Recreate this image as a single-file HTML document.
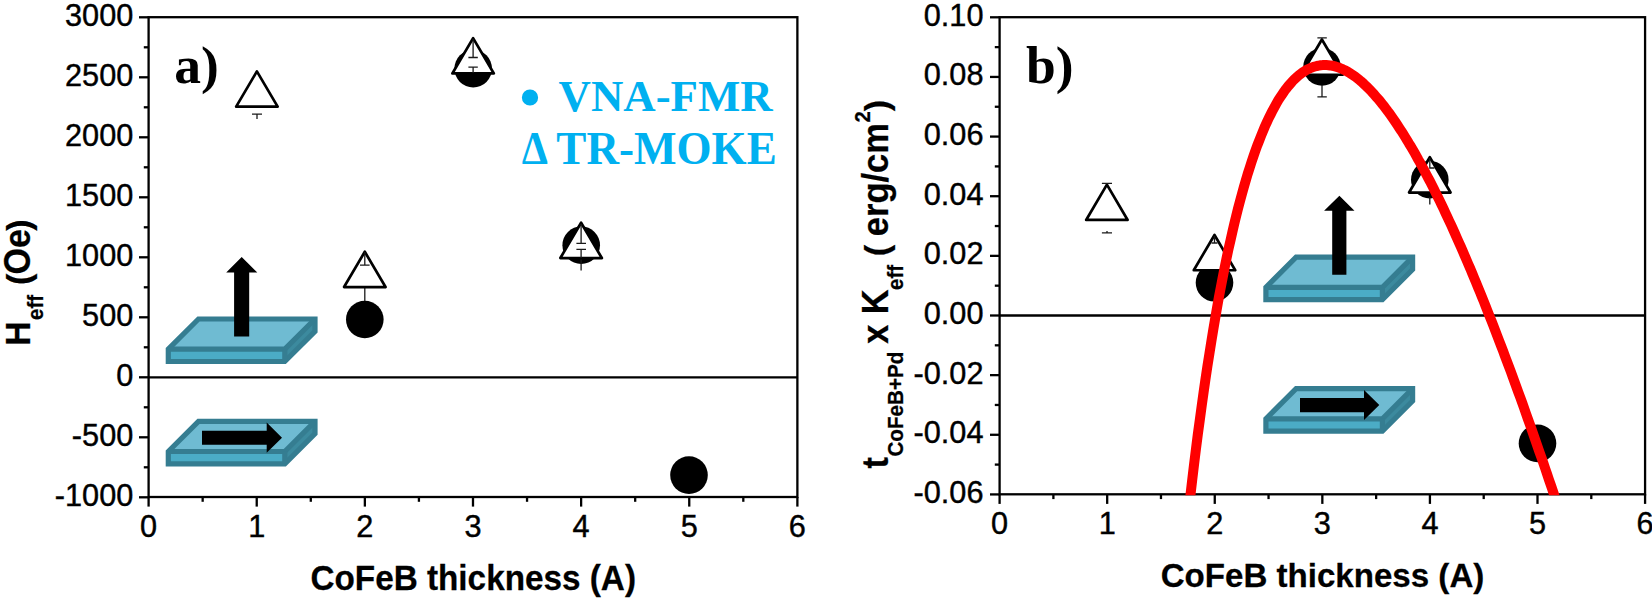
<!DOCTYPE html>
<html><head><meta charset="utf-8"><title>Figure</title>
<style>
html,body{margin:0;padding:0;background:#fff;}
body{width:1652px;height:603px;overflow:hidden;}
svg{display:block;}
.tk{font-family:"Liberation Sans",Arial,sans-serif;font-size:30.7px;fill:#000;stroke:#000;stroke-width:0.4px;}
.ttl{font-family:"Liberation Sans",Arial,sans-serif;font-weight:bold;fill:#000;stroke:#000;stroke-width:0.25px;}
.ser{font-family:"Liberation Serif","Times New Roman",serif;font-weight:bold;}
.ax{stroke:#000;stroke-width:2.3;fill:none;stroke-linecap:butt;}
.eb{stroke:#1a1a1a;stroke-width:1.3;fill:none;}
.tri{fill:#fff;stroke:#000;stroke-width:2.7;stroke-linejoin:round;}
</style></head><body>
<svg width="1652" height="603" viewBox="0 0 1652 603">
<rect width="1652" height="603" fill="#fff"/>

<!-- left plot -->
<polygon points="168.30,349.20 198.50,319.00 315.00,319.00 284.80,349.20" fill="#6FBBD2"/>
<polygon points="284.80,349.20 315.00,319.00 315.00,331.30 284.80,361.50" fill="#3C8A9E"/>
<rect x="168.30" y="349.20" width="116.5" height="12.3" fill="#4BACC6"/>
<g fill="none" stroke="#357D91" stroke-width="5.2" stroke-linejoin="miter" stroke-linecap="butt">
<polygon points="168.30,361.50 168.30,349.20 198.50,319.00 315.00,319.00 315.00,331.30 284.80,361.50"/>
<polyline points="168.30,349.20 284.80,349.20 315.00,319.00"/>
<line x1="284.80" y1="349.20" x2="284.80" y2="361.50"/>
</g>
<polygon fill="#000" points="234.1,336.4 234.1,272.5 226.2,272.5 241.7,257 257.3,272.5 249.2,272.5 249.2,336.4"/>
<polygon points="168.30,451.50 198.50,421.30 315.00,421.30 284.80,451.50" fill="#6FBBD2"/>
<polygon points="284.80,451.50 315.00,421.30 315.00,433.60 284.80,463.80" fill="#3C8A9E"/>
<rect x="168.30" y="451.50" width="116.5" height="12.3" fill="#4BACC6"/>
<g fill="none" stroke="#357D91" stroke-width="5.2" stroke-linejoin="miter" stroke-linecap="butt">
<polygon points="168.30,463.80 168.30,451.50 198.50,421.30 315.00,421.30 315.00,433.60 284.80,463.80"/>
<polyline points="168.30,451.50 284.80,451.50 315.00,421.30"/>
<line x1="284.80" y1="451.50" x2="284.80" y2="463.80"/>
</g>
<polygon fill="#000" points="202,430.8 266.7,430.8 266.7,422.5 282,437.7 266.7,452.8 266.7,444.8 202,444.8"/>
<rect class="ax" x="148.6" y="17.2" width="648.78" height="479.80"/>
<line class="ax" x1="148.6" y1="377.3" x2="797.38" y2="377.3"/>
<line class="ax" x1="139.0" y1="497.30" x2="148.6" y2="497.30"/>
<line class="ax" x1="143.79999999999998" y1="467.30" x2="148.6" y2="467.30"/>
<line class="ax" x1="139.0" y1="437.30" x2="148.6" y2="437.30"/>
<line class="ax" x1="143.79999999999998" y1="407.30" x2="148.6" y2="407.30"/>
<line class="ax" x1="139.0" y1="377.30" x2="148.6" y2="377.30"/>
<line class="ax" x1="143.79999999999998" y1="347.30" x2="148.6" y2="347.30"/>
<line class="ax" x1="139.0" y1="317.30" x2="148.6" y2="317.30"/>
<line class="ax" x1="143.79999999999998" y1="287.30" x2="148.6" y2="287.30"/>
<line class="ax" x1="139.0" y1="257.30" x2="148.6" y2="257.30"/>
<line class="ax" x1="143.79999999999998" y1="227.30" x2="148.6" y2="227.30"/>
<line class="ax" x1="139.0" y1="197.30" x2="148.6" y2="197.30"/>
<line class="ax" x1="143.79999999999998" y1="167.30" x2="148.6" y2="167.30"/>
<line class="ax" x1="139.0" y1="137.30" x2="148.6" y2="137.30"/>
<line class="ax" x1="143.79999999999998" y1="107.30" x2="148.6" y2="107.30"/>
<line class="ax" x1="139.0" y1="77.30" x2="148.6" y2="77.30"/>
<line class="ax" x1="143.79999999999998" y1="47.30" x2="148.6" y2="47.30"/>
<line class="ax" x1="139.0" y1="17.30" x2="148.6" y2="17.30"/>
<line class="ax" x1="148.60" y1="497.0" x2="148.60" y2="506.6"/>
<line class="ax" x1="202.66" y1="497.0" x2="202.66" y2="501.8"/>
<line class="ax" x1="256.73" y1="497.0" x2="256.73" y2="506.6"/>
<line class="ax" x1="310.79" y1="497.0" x2="310.79" y2="501.8"/>
<line class="ax" x1="364.86" y1="497.0" x2="364.86" y2="506.6"/>
<line class="ax" x1="418.92" y1="497.0" x2="418.92" y2="501.8"/>
<line class="ax" x1="472.99" y1="497.0" x2="472.99" y2="506.6"/>
<line class="ax" x1="527.05" y1="497.0" x2="527.05" y2="501.8"/>
<line class="ax" x1="581.12" y1="497.0" x2="581.12" y2="506.6"/>
<line class="ax" x1="635.18" y1="497.0" x2="635.18" y2="501.8"/>
<line class="ax" x1="689.25" y1="497.0" x2="689.25" y2="506.6"/>
<line class="ax" x1="743.31" y1="497.0" x2="743.31" y2="501.8"/>
<line class="ax" x1="797.38" y1="497.0" x2="797.38" y2="506.6"/>
<text class="tk" transform="translate(133.30,505.80) scale(1,1.035)" text-anchor="end" >-1000</text>
<text class="tk" transform="translate(133.30,445.80) scale(1,1.035)" text-anchor="end" >-500</text>
<text class="tk" transform="translate(133.30,385.80) scale(1,1.035)" text-anchor="end" >0</text>
<text class="tk" transform="translate(133.30,325.80) scale(1,1.035)" text-anchor="end" >500</text>
<text class="tk" transform="translate(133.30,265.80) scale(1,1.035)" text-anchor="end" >1000</text>
<text class="tk" transform="translate(133.30,205.80) scale(1,1.035)" text-anchor="end" >1500</text>
<text class="tk" transform="translate(133.30,145.80) scale(1,1.035)" text-anchor="end" >2000</text>
<text class="tk" transform="translate(133.30,85.80) scale(1,1.035)" text-anchor="end" >2500</text>
<text class="tk" transform="translate(133.30,25.80) scale(1,1.035)" text-anchor="end" >3000</text>
<text class="tk" transform="translate(148.60,536.90) scale(1,1.035)" text-anchor="middle" >0</text>
<text class="tk" transform="translate(256.73,536.90) scale(1,1.035)" text-anchor="middle" >1</text>
<text class="tk" transform="translate(364.86,536.90) scale(1,1.035)" text-anchor="middle" >2</text>
<text class="tk" transform="translate(472.99,536.90) scale(1,1.035)" text-anchor="middle" >3</text>
<text class="tk" transform="translate(581.12,536.90) scale(1,1.035)" text-anchor="middle" >4</text>
<text class="tk" transform="translate(689.25,536.90) scale(1,1.035)" text-anchor="middle" >5</text>
<text class="tk" transform="translate(797.38,536.90) scale(1,1.035)" text-anchor="middle" >6</text>
<circle cx="364.8" cy="319.5" r="18.8" fill="#000"/>
<circle cx="473.2" cy="68.6" r="18.8" fill="#000"/>
<circle cx="581.2" cy="245.2" r="18.8" fill="#000"/>
<circle cx="689.0" cy="475.1" r="18.8" fill="#000"/>
<line class="eb" x1="364.8" y1="288" x2="364.8" y2="301"/>
<line class="eb" x1="581.1" y1="224" x2="581.1" y2="270.5"/>
<polygon class="tri" points="256.9,71.35 277.65,106.65 236.15,106.65"/>
<polygon class="tri" points="364.8,251.75 385.55,287.05 344.05,287.05"/>
<polygon class="tri" points="473.1,38.15 493.85,73.45 452.35,73.45"/>
<polygon class="tri" points="581.1,222.75 601.85,258.05 560.35,258.05"/>
<path class="eb" d="M252,114.2H262M257,114.2V119"/>
<path class="eb" d="M364.8,252V265.2M360,265.2H369.6"/>
<path class="eb" d="M473.1,39V57.5M468.4,57.5H477.8M468.4,67.1H477.8M473.1,67.1V73"/>
<path class="eb" d="M581.1,224V243.4M581.1,249.3V258M576.4,243.4H586M576.4,249.3H586"/>
<text class="ser" x="174.3" y="83" font-size="53.5" fill="#000">a)</text>
<text class="ser" x="519.6" y="117" font-size="60" fill="#00B0F0">•</text>
<text class="ser" transform="translate(558.5,110.6) scale(1,1.0)" font-size="44.85" fill="#00B0F0">VNA-FMR</text>
<text class="ser" transform="translate(521.8,163.9) scale(0.93,1.02)" font-size="44.85" fill="#00B0F0">Δ</text>
<text class="ser" transform="translate(556.3,163.9) scale(1,1.02)" font-size="45.1" fill="#00B0F0">TR-MOKE</text>
<text class="ttl" transform="translate(473.20,589.80) scale(1,1.03)" text-anchor="middle" font-size="33.3">CoFeB thickness (A)</text>
<g transform="translate(30.2,0) rotate(-90)">
<text class="ttl" font-size="33.8" transform="translate(-333.50,0.00) scale(1,1.06)" text-anchor="middle">H</text>
<text class="ttl" font-size="20.3" transform="translate(-307.50,13.20) scale(1,1.06)" text-anchor="middle">eff</text>
<text class="ttl" font-size="34.0" transform="translate(-279.30,0.00) scale(1,0.975)" text-anchor="middle">(</text>
<text class="ttl" font-size="34.0" transform="translate(-251.80,0.00) scale(1,1.06)" text-anchor="middle">Oe</text>
<text class="ttl" font-size="34.0" transform="translate(-225.20,0.00) scale(1,0.975)" text-anchor="middle">)</text>
</g>
<!-- right plot -->
<polygon points="1265.90,287.40 1296.10,257.20 1412.60,257.20 1382.40,287.40" fill="#6FBBD2"/>
<polygon points="1382.40,287.40 1412.60,257.20 1412.60,269.50 1382.40,299.70" fill="#3C8A9E"/>
<rect x="1265.90" y="287.40" width="116.5" height="12.3" fill="#4BACC6"/>
<g fill="none" stroke="#357D91" stroke-width="5.2" stroke-linejoin="miter" stroke-linecap="butt">
<polygon points="1265.90,299.70 1265.90,287.40 1296.10,257.20 1412.60,257.20 1412.60,269.50 1382.40,299.70"/>
<polyline points="1265.90,287.40 1382.40,287.40 1412.60,257.20"/>
<line x1="1382.40" y1="287.40" x2="1382.40" y2="299.70"/>
</g>
<polygon fill="#000" points="1332.2,274.8 1332.2,210.7 1324.1,210.7 1339.4,195.8 1354.5,210.7 1346.4,210.7 1346.4,274.8"/>
<polygon points="1265.90,418.90 1296.10,388.70 1412.60,388.70 1382.40,418.90" fill="#6FBBD2"/>
<polygon points="1382.40,418.90 1412.60,388.70 1412.60,401.00 1382.40,431.20" fill="#3C8A9E"/>
<rect x="1265.90" y="418.90" width="116.5" height="12.3" fill="#4BACC6"/>
<g fill="none" stroke="#357D91" stroke-width="5.2" stroke-linejoin="miter" stroke-linecap="butt">
<polygon points="1265.90,431.20 1265.90,418.90 1296.10,388.70 1412.60,388.70 1412.60,401.00 1382.40,431.20"/>
<polyline points="1265.90,418.90 1382.40,418.90 1412.60,388.70"/>
<line x1="1382.40" y1="418.90" x2="1382.40" y2="431.20"/>
</g>
<polygon fill="#000" points="1300,398.1 1364,398.1 1364,389.9 1379.3,405 1364,420.1 1364,412.2 1300,412.2"/>
<rect class="ax" x="999.6" y="17.2" width="645.48" height="477.10"/>
<line class="ax" x1="999.6" y1="315.5" x2="1645.08" y2="315.5"/>
<line class="ax" x1="990.0" y1="494.42" x2="999.6" y2="494.42"/>
<line class="ax" x1="994.8000000000001" y1="464.60" x2="999.6" y2="464.60"/>
<line class="ax" x1="990.0" y1="434.78" x2="999.6" y2="434.78"/>
<line class="ax" x1="994.8000000000001" y1="404.96" x2="999.6" y2="404.96"/>
<line class="ax" x1="990.0" y1="375.14" x2="999.6" y2="375.14"/>
<line class="ax" x1="994.8000000000001" y1="345.32" x2="999.6" y2="345.32"/>
<line class="ax" x1="990.0" y1="315.50" x2="999.6" y2="315.50"/>
<line class="ax" x1="994.8000000000001" y1="285.68" x2="999.6" y2="285.68"/>
<line class="ax" x1="990.0" y1="255.86" x2="999.6" y2="255.86"/>
<line class="ax" x1="994.8000000000001" y1="226.04" x2="999.6" y2="226.04"/>
<line class="ax" x1="990.0" y1="196.22" x2="999.6" y2="196.22"/>
<line class="ax" x1="994.8000000000001" y1="166.40" x2="999.6" y2="166.40"/>
<line class="ax" x1="990.0" y1="136.58" x2="999.6" y2="136.58"/>
<line class="ax" x1="994.8000000000001" y1="106.76" x2="999.6" y2="106.76"/>
<line class="ax" x1="990.0" y1="76.94" x2="999.6" y2="76.94"/>
<line class="ax" x1="994.8000000000001" y1="47.12" x2="999.6" y2="47.12"/>
<line class="ax" x1="990.0" y1="17.30" x2="999.6" y2="17.30"/>
<line class="ax" x1="999.60" y1="494.3" x2="999.60" y2="503.90000000000003"/>
<line class="ax" x1="1053.39" y1="494.3" x2="1053.39" y2="499.1"/>
<line class="ax" x1="1107.18" y1="494.3" x2="1107.18" y2="503.90000000000003"/>
<line class="ax" x1="1160.97" y1="494.3" x2="1160.97" y2="499.1"/>
<line class="ax" x1="1214.76" y1="494.3" x2="1214.76" y2="503.90000000000003"/>
<line class="ax" x1="1268.55" y1="494.3" x2="1268.55" y2="499.1"/>
<line class="ax" x1="1322.34" y1="494.3" x2="1322.34" y2="503.90000000000003"/>
<line class="ax" x1="1376.13" y1="494.3" x2="1376.13" y2="499.1"/>
<line class="ax" x1="1429.92" y1="494.3" x2="1429.92" y2="503.90000000000003"/>
<line class="ax" x1="1483.71" y1="494.3" x2="1483.71" y2="499.1"/>
<line class="ax" x1="1537.50" y1="494.3" x2="1537.50" y2="503.90000000000003"/>
<line class="ax" x1="1591.29" y1="494.3" x2="1591.29" y2="499.1"/>
<line class="ax" x1="1645.08" y1="494.3" x2="1645.08" y2="503.90000000000003"/>
<text class="tk" transform="translate(983.50,502.92) scale(1,1.035)" text-anchor="end" >-0.06</text>
<text class="tk" transform="translate(983.50,443.28) scale(1,1.035)" text-anchor="end" >-0.04</text>
<text class="tk" transform="translate(983.50,383.64) scale(1,1.035)" text-anchor="end" >-0.02</text>
<text class="tk" transform="translate(983.50,324.00) scale(1,1.035)" text-anchor="end" >0.00</text>
<text class="tk" transform="translate(983.50,264.36) scale(1,1.035)" text-anchor="end" >0.02</text>
<text class="tk" transform="translate(983.50,204.72) scale(1,1.035)" text-anchor="end" >0.04</text>
<text class="tk" transform="translate(983.50,145.08) scale(1,1.035)" text-anchor="end" >0.06</text>
<text class="tk" transform="translate(983.50,85.44) scale(1,1.035)" text-anchor="end" >0.08</text>
<text class="tk" transform="translate(983.50,25.80) scale(1,1.035)" text-anchor="end" >0.10</text>
<text class="tk" transform="translate(999.60,534.10) scale(1,1.035)" text-anchor="middle" >0</text>
<text class="tk" transform="translate(1107.18,534.10) scale(1,1.035)" text-anchor="middle" >1</text>
<text class="tk" transform="translate(1214.76,534.10) scale(1,1.035)" text-anchor="middle" >2</text>
<text class="tk" transform="translate(1322.34,534.10) scale(1,1.035)" text-anchor="middle" >3</text>
<text class="tk" transform="translate(1429.92,534.10) scale(1,1.035)" text-anchor="middle" >4</text>
<text class="tk" transform="translate(1537.50,534.10) scale(1,1.035)" text-anchor="middle" >5</text>
<text class="tk" transform="translate(1645.08,534.10) scale(1,1.035)" text-anchor="middle" >6</text>
<circle cx="1214.5" cy="282.8" r="18.8" fill="#000"/>
<circle cx="1322" cy="66.9" r="18.8" fill="#000"/>
<circle cx="1429.8" cy="179.7" r="18.8" fill="#000"/>
<circle cx="1537.5" cy="443.4" r="18.8" fill="#000"/>
<path class="eb" d="M1322,85V96.9M1317.4,96.9H1326.8M1429.8,197V204.5"/>
<polygon class="tri" points="1106.9,184.65 1127.65,219.95 1086.15,219.95"/>
<polygon class="tri" points="1214.5,234.95 1235.25,270.25 1193.75,270.25"/>
<polygon class="tri" points="1321.9,39.45 1342.65,74.75 1301.15,74.75"/>
<polygon class="tri" points="1429.8,157.25 1450.55,192.55 1409.05,192.55"/>
<path class="eb" d="M1101.9,183.4H1112M1101.9,232.9H1112M1107,232.9V231M1317.4,37.9H1326.8M1214.5,236V243M1211.5,243H1217.5M1429.8,158V168H1434.5"/>
<clipPath id="cr"><rect x="999.6" y="17.2" width="645.48" height="478.10"/></clipPath>
<path d="M1182.5,568.1 L1184.4,549.6 L1186.3,531.6 L1188.2,514.2 L1190.2,497.2 L1192.1,480.8 L1194.0,464.9 L1195.9,449.5 L1197.8,434.5 L1199.8,420.0 L1201.7,405.9 L1203.6,392.3 L1205.5,379.0 L1207.4,366.2 L1209.4,353.8 L1211.3,341.8 L1213.2,330.1 L1215.1,318.8 L1217.0,307.8 L1218.9,297.2 L1220.9,286.9 L1222.8,277.0 L1224.7,267.3 L1226.6,258.0 L1228.5,249.0 L1230.5,240.3 L1232.4,231.8 L1234.3,223.7 L1236.2,215.8 L1238.1,208.2 L1240.1,200.8 L1242.0,193.7 L1243.9,186.9 L1245.8,180.3 L1247.7,173.9 L1249.7,167.7 L1251.6,161.8 L1253.5,156.1 L1255.4,150.7 L1257.3,145.4 L1259.3,140.3 L1261.2,135.5 L1263.1,130.8 L1265.0,126.3 L1266.9,122.1 L1268.8,118.0 L1270.8,114.1 L1272.7,110.3 L1274.6,106.8 L1276.5,103.4 L1278.4,100.1 L1280.4,97.1 L1282.3,94.2 L1284.2,91.4 L1286.1,88.8 L1288.0,86.4 L1290.0,84.1 L1291.9,81.9 L1293.8,79.9 L1295.7,78.1 L1297.6,76.3 L1299.6,74.7 L1301.5,73.3 L1303.4,71.9 L1305.3,70.7 L1307.2,69.6 L1309.1,68.7 L1311.1,67.8 L1313.0,67.1 L1314.9,66.5 L1316.8,66.0 L1318.7,65.6 L1320.7,65.3 L1322.6,65.1 L1324.5,65.0 L1326.4,65.1 L1328.3,65.2 L1330.3,65.4 L1332.2,65.7 L1334.1,66.2 L1336.0,66.7 L1337.9,67.3 L1339.9,68.0 L1341.8,68.8 L1343.7,69.7 L1345.6,70.6 L1347.5,71.7 L1349.5,72.8 L1351.4,74.1 L1353.3,75.4 L1355.2,76.7 L1357.1,78.2 L1359.0,79.7 L1361.0,81.3 L1362.9,83.0 L1364.8,84.8 L1366.7,86.6 L1368.6,88.5 L1370.6,90.5 L1372.5,92.6 L1374.4,94.7 L1376.3,96.9 L1378.2,99.1 L1380.2,101.4 L1382.1,103.8 L1384.0,106.2 L1385.9,108.7 L1387.8,111.3 L1389.8,113.9 L1391.7,116.6 L1393.6,119.3 L1395.5,122.1 L1397.4,125.0 L1399.3,127.9 L1401.3,130.9 L1403.2,133.9 L1405.1,137.0 L1407.0,140.1 L1408.9,143.3 L1410.9,146.5 L1412.8,149.8 L1414.7,153.1 L1416.6,156.5 L1418.5,160.0 L1420.5,163.4 L1422.4,167.0 L1424.3,170.5 L1426.2,174.2 L1428.1,177.8 L1430.1,181.5 L1432.0,185.3 L1433.9,189.1 L1435.8,192.9 L1437.7,196.8 L1439.7,200.8 L1441.6,204.7 L1443.5,208.7 L1445.4,212.8 L1447.3,216.9 L1449.2,221.0 L1451.2,225.2 L1453.1,229.4 L1455.0,233.6 L1456.9,237.9 L1458.8,242.2 L1460.8,246.6 L1462.7,251.0 L1464.6,255.4 L1466.5,259.9 L1468.4,264.4 L1470.4,268.9 L1472.3,273.5 L1474.2,278.1 L1476.1,282.7 L1478.0,287.4 L1480.0,292.1 L1481.9,296.8 L1483.8,301.5 L1485.7,306.3 L1487.6,311.2 L1489.5,316.0 L1491.5,320.9 L1493.4,325.8 L1495.3,330.8 L1497.2,335.7 L1499.1,340.7 L1501.1,345.8 L1503.0,350.8 L1504.9,355.9 L1506.8,361.0 L1508.7,366.1 L1510.7,371.3 L1512.6,376.5 L1514.5,381.7 L1516.4,387.0 L1518.3,392.2 L1520.3,397.5 L1522.2,402.8 L1524.1,408.2 L1526.0,413.6 L1527.9,419.0 L1529.9,424.4 L1531.8,429.8 L1533.7,435.3 L1535.6,440.8 L1537.5,446.3 L1539.4,451.8 L1541.4,457.4 L1543.3,462.9 L1545.2,468.5 L1547.1,474.2 L1549.0,479.8 L1551.0,485.5 L1552.9,491.2 L1554.8,496.9 L1556.7,502.6 L1558.6,508.3 L1560.6,514.1 L1562.5,519.9 L1564.4,525.7" fill="none" stroke="#FF0000" stroke-width="10" stroke-linejoin="round" clip-path="url(#cr)"/>
<text class="ser" x="1026" y="83" font-size="53.5" fill="#000">b)</text>
<text class="ttl" transform="translate(1322.50,586.50) scale(1,1.03)" text-anchor="middle" font-size="33.1">CoFeB thickness (A)</text>
<g transform="translate(888.3,0) rotate(-90)">
<text class="ttl" font-size="34.3" transform="translate(-462.75,0.00) scale(1,1.06)" text-anchor="middle">t</text>
<text class="ttl" font-size="20.65" transform="translate(-404.15,14.70) scale(1,1.06)" text-anchor="middle">CoFeB+Pd</text>
<text class="ttl" font-size="34.3" transform="translate(-334.10,0.00) scale(1,1.06)" text-anchor="middle">x</text>
<text class="ttl" font-size="34.3" transform="translate(-302.00,0.00) scale(1,1.06)" text-anchor="middle">K</text>
<text class="ttl" font-size="20.3" transform="translate(-277.50,14.70) scale(1,1.06)" text-anchor="middle">eff</text>
<text class="ttl" font-size="34.3" transform="translate(-250.50,0.00) scale(1,0.975)" text-anchor="middle">(</text>
<text class="ttl" font-size="34.5" transform="translate(-179.65,0.00) scale(1,1.06)" text-anchor="middle">erg/cm</text>
<text class="ttl" font-size="20.3" transform="translate(-116.80,-18.00) scale(1,1.06)" text-anchor="middle">2</text>
<text class="ttl" font-size="34.3" transform="translate(-105.50,0.00) scale(1,0.975)" text-anchor="middle">)</text>
</g>
</svg></body></html>
